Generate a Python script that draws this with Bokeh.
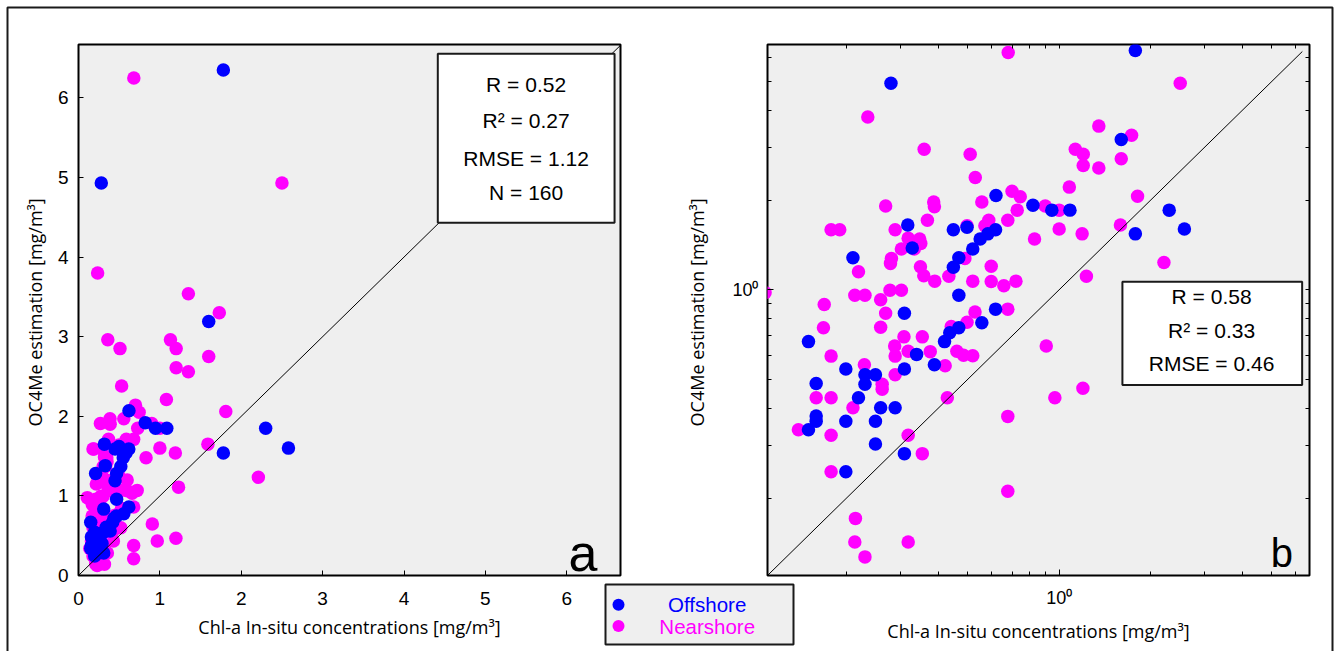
from bokeh.plotting import figure
from bokeh.models import BoxAnnotation, Label, FixedTicker, LogAxis, Range1d
from bokeh.layouts import row
from bokeh.embed import file_html
from bokeh.resources import INLINE

# ---------------- data ----------------
series_names = ["Offshore", "Nearshore"]

off_x = [1.78, 0.28, 1.60, 0.62, 0.82, 0.946, 1.085, 2.30, 2.58, 1.78,
         0.318, 0.449, 0.498, 0.618, 0.583, 0.55, 0.52, 0.329, 0.21, 0.468,
         0.449, 0.468, 0.618, 0.31, 0.557, 0.468, 0.437, 0.42, 0.15, 0.34,
         0.389, 0.199, 0.31, 0.23, 0.249, 0.23, 0.159, 0.219, 0.259, 0.289,
         0.159, 0.159, 0.199, 0.249, 0.15, 0.249, 0.31, 0.199]
off_y = [6.35, 4.93, 3.19, 2.07, 1.92, 1.85, 1.85, 1.85, 1.60, 1.54,
         1.65, 1.59, 1.62, 1.59, 1.54, 1.48, 1.37, 1.38, 1.28, 1.28,
         1.19, 0.959, 0.861, 0.834, 0.775, 0.746, 0.718, 0.67, 0.67, 0.607,
         0.56, 0.542, 0.542, 0.519, 0.519, 0.482, 0.485, 0.434, 0.402, 0.402,
         0.377, 0.362, 0.362, 0.362, 0.339, 0.304, 0.282, 0.245]

near_x = [0.68, 2.50, 0.235, 1.35, 1.73, 0.36, 0.51, 1.13, 1.20, 1.20,
          1.35, 1.60, 0.53, 1.08, 0.70, 0.745, 1.81, 0.557, 0.387, 0.389,
          0.269, 0.90, 0.728, 1.00, 0.369, 0.678, 0.587, 0.178, 0.19, 0.289,
          1.59, 0.498, 0.57, 1.00, 1.19, 0.83, 0.348, 0.319, 0.303, 0.334,
          0.35, 0.281, 0.279, 0.219, 0.359, 0.39, 0.434, 0.49, 0.598, 0.52,
          0.598, 0.658, 0.721, 1.229, 2.21, 0.213, 0.23, 0.278, 0.303, 0.259,
          0.169, 0.269, 0.529, 0.498, 0.678, 0.168, 0.259, 0.309, 0.355, 0.288,
          0.289, 0.319, 0.377, 0.461, 0.485, 0.52, 0.178, 0.442, 0.229, 0.289,
          0.262, 0.262, 0.422, 0.907, 0.159, 0.178, 0.21, 0.429, 0.968, 1.197,
          0.139, 0.178, 0.319, 0.355, 0.678, 0.178, 0.678, 0.214, 0.213, 0.319,
          0.23, 0.108, 0.351]
near_y = [6.25, 4.93, 3.80, 3.54, 3.30, 2.96, 2.85, 2.96, 2.85, 2.61,
          2.56, 2.75, 2.38, 2.21, 2.14, 2.05, 2.06, 1.97, 1.97, 1.90,
          1.91, 1.91, 1.85, 1.85, 1.71, 1.71, 1.71, 1.59, 1.59, 1.59,
          1.65, 1.64, 1.64, 1.60, 1.54, 1.48, 1.48, 1.49, 1.37, 1.37,
          1.195, 1.274, 1.226, 1.15, 1.114, 1.069, 1.11, 1.274, 1.20, 1.069,
          1.066, 1.032, 1.069, 1.11, 1.234, 0.959, 0.959, 0.997, 0.997, 0.926,
          0.892, 0.834, 0.842, 0.778, 0.861, 0.746, 0.748, 0.695, 0.695, 0.648,
          0.599, 0.622, 0.62, 0.622, 0.603, 0.601, 0.599, 0.753, 0.56, 0.519,
          0.482, 0.464, 0.556, 0.648, 0.434, 0.434, 0.402, 0.434, 0.434, 0.467,
          0.339, 0.325, 0.325, 0.282, 0.376, 0.245, 0.211, 0.171, 0.1425, 0.1425,
          0.127, 0.978, 1.43]

stats_a = ["R = 0.52", "R\u00b2 = 0.27", "RMSE = 1.12", "N = 160"]
stats_b = ["R = 0.58", "R\u00b2 = 0.33", "RMSE = 0.46"]
lin_ticks = [0, 1, 2, 3, 4, 5, 6]
log_major = [1.0]
log_minor = [0.2, 0.3, 0.4, 0.5, 0.6, 0.7, 0.8, 0.9, 2, 3, 4, 5, 6]
log_labels = {1: "10\u2070"}
diag_lin = [0.0, 6.66]
diag_log = [0.11, 6.3]
x_label = "Chl-a In-situ concentrations [mg/m\u00b3]"
y_label = "OC4Me estimation  [mg/m\u00b3]"

# ---------------- style ----------------
TICK_FONT = "Liberation Sans"
LABEL_FONT = "Open Sans"
BLUE = "#0000ff"
MAGENTA = "#ff00ff"
PANEL_BG = "#efefef"
EDGE = "#1a1a1a"
MS = 13.5


def style_axis(ax, tick_size, major_in=5, minor_in=3):
    ax.axis_line_color = None
    ax.major_tick_in = major_in
    ax.major_tick_out = 0
    ax.minor_tick_in = minor_in
    ax.minor_tick_out = 0
    ax.major_tick_line_color = "black"
    ax.minor_tick_line_color = "black"
    ax.major_label_text_font = TICK_FONT
    ax.major_label_text_font_size = tick_size
    ax.major_label_text_color = "black"
    ax.axis_label_text_font = LABEL_FONT
    ax.axis_label_text_font_size = "18px"
    ax.axis_label_text_font_style = "normal"
    ax.axis_label_text_color = "black"


def stat_label(x, y, text):
    return Label(x=x, y=y, text=text, text_align="center", text_baseline="middle",
                 text_font=TICK_FONT, text_font_size="21px", text_color="black")


def box(**kw):
    return BoxAnnotation(line_alpha=1, line_width=2, line_color=EDGE, **kw)


# ---------------- page background: outer frame and legend ----------------
bg = figure(width=1335, height=651, x_range=Range1d(0, 1335), y_range=Range1d(651, 0),
            x_axis_location=None, y_axis_location=None,
            output_backend="svg", toolbar_location=None, min_border=0,
            outline_line_color=None, background_fill_color="white", border_fill_color="white")
bg.frame_align = False
bg.grid.visible = False
bg.add_layout(box(left=7, right=1332, top=7, bottom=720, fill_alpha=0))
bg.add_layout(box(left=605, right=793, top=584, bottom=644,
                  fill_color=PANEL_BG, fill_alpha=1, level="underlay"))
legend_colors = [BLUE, MAGENTA]
legend_rows = [604.3, 625.5]
bg.scatter(x=[618, 618], y=legend_rows, size=12, fill_color=legend_colors, line_color=None)
for name, col, yy in zip(series_names, legend_colors, legend_rows):
    bg.add_layout(Label(x=706.7, y=yy, text=name, text_align="center", text_baseline="middle",
                        text_font=TICK_FONT, text_font_size="20.5px", text_color=col))

# ---------------- left panel (linear) ----------------
p1 = figure(width=800, height=651, x_range=Range1d(0, 6.66), y_range=Range1d(0, 6.67),
            output_backend="svg", toolbar_location=None,
            min_border_left=78, min_border_right=180, min_border_top=44, min_border_bottom=76,
            background_fill_color=PANEL_BG, border_fill_color=None,
            outline_line_color="black", outline_line_width=2, outline_line_alpha=1)
p1.frame_align = False
p1.margin = (0, 0, 0, -1335)
p1.grid.visible = False
p1.xaxis.ticker = FixedTicker(ticks=lin_ticks)
p1.yaxis.ticker = FixedTicker(ticks=lin_ticks)
for ax in p1.axis:
    style_axis(ax, "19px")
    ax.minor_tick_line_color = None
p1.xaxis.axis_label = x_label
p1.yaxis.axis_label = y_label
p1.xaxis.major_label_standoff = 16
p1.yaxis.major_label_standoff = 10
p1.xaxis.axis_label_standoff = 7
p1.yaxis.axis_label_standoff = 8

p1.scatter(near_x, near_y, size=MS, fill_color=MAGENTA, line_color=None)
p1.scatter(off_x, off_y, size=MS, fill_color=BLUE, line_color=None)
p1.line(diag_lin, diag_lin, line_color="black", line_width=1)

p1.add_layout(box(left=4.415, right=6.587, bottom=4.431, top=6.554,
                  fill_color="white", fill_alpha=1))
for t, yy in zip(stats_a, [6.163, 5.711, 5.234, 4.807]):
    p1.add_layout(stat_label(5.50, yy, t))
p1.add_layout(Label(x=6.2, y=0.285, text="a", text_align="center", text_baseline="alphabetic",
                    text_font=TICK_FONT, text_font_size="52px", text_color="black"))

# ---------------- right panel (log) ----------------
p2 = figure(width=695, height=651, x_axis_type="log", y_axis_type="log",
            x_range=Range1d(0.11, 6.65), y_range=Range1d(0.11, 6.65),
            output_backend="svg", toolbar_location=None,
            min_border_left=127, min_border_right=26, min_border_top=44, min_border_bottom=76,
            background_fill_color=PANEL_BG, border_fill_color=None,
            outline_line_color="black", outline_line_width=2, outline_line_alpha=1)
p2.frame_align = False
p2.margin = (0, 0, 0, -160)
p2.grid.visible = False
p2.xaxis.ticker = FixedTicker(ticks=log_major, minor_ticks=log_minor)
p2.yaxis.ticker = FixedTicker(ticks=log_major, minor_ticks=log_minor)
for ax in p2.axis:
    style_axis(ax, "18px", major_in=6, minor_in=4)
    ax.major_label_overrides = log_labels
p2.xaxis.axis_label = x_label
p2.yaxis.axis_label = y_label
p2.xaxis.major_label_standoff = 12
p2.yaxis.major_label_standoff = 9
p2.xaxis.axis_label_standoff = 8
p2.yaxis.axis_label_standoff = 20

top_ax = LogAxis(ticker=FixedTicker(ticks=[], minor_ticks=log_minor + log_major))
right_ax = LogAxis(ticker=FixedTicker(ticks=[], minor_ticks=log_minor + log_major))
for ax in (top_ax, right_ax):
    style_axis(ax, "18px", major_in=6, minor_in=4)
p2.add_layout(top_ax, "above")
p2.add_layout(right_ax, "right")

p2.scatter(near_x, near_y, size=MS, fill_color=MAGENTA, line_color=None)
p2.scatter(off_x, off_y, size=MS, fill_color=BLUE, line_color=None)
p2.line(diag_log, diag_log, line_color="black", line_width=1)

p2.add_layout(box(left=1.614, right=6.29, bottom=0.479, top=1.063,
                  fill_color="white", fill_alpha=1))
for t, yy in zip(stats_b, [0.948, 0.730, 0.567]):
    p2.add_layout(stat_label(3.17, yy, t))
p2.add_layout(Label(x=5.40, y=0.131, text="b", text_align="center", text_baseline="alphabetic",
                    text_font=TICK_FONT, text_font_size="40px", text_color="black"))

layout = row(bg, p1, p2)
open("out.html", "w").write(file_html(layout, INLINE))
